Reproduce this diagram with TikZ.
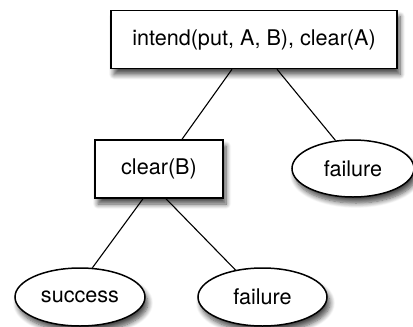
\documentclass[tikz,border=0pt]{standalone}
\usepackage{fontspec}
\setmainfont{TeX Gyre Heros}
\usepackage{tikz}
\usetikzlibrary{shapes.geometric,shadows.blur}

\tikzset{
  goalbox/.style={draw, fill=white, line width=0.75pt, rectangle, inner sep=0pt,
    blur shadow={shadow xshift=1.5pt, shadow yshift=-3pt, shadow blur radius=2.5pt, shadow blur steps=8, shadow opacity=70}},
  outcome/.style={draw, fill=white, line width=0.75pt, ellipse, inner sep=0pt,
    blur shadow={shadow xshift=1.5pt, shadow yshift=-3pt, shadow blur radius=2.5pt, shadow blur steps=8, shadow opacity=70}},
  branch/.style={line width=0.55pt}
}

\begin{document}
\begin{tikzpicture}[x=1pt, y=-1pt, font=\fontsize{10.8}{12}\selectfont]

\useasboundingbox (0,0) rectangle (206.5,163.5);
\clip (0,0) rectangle (206.5,163.5);

\node[goalbox, minimum width=143pt, minimum height=29pt] (root) at (127,19.75) {intend(put, A, B), clear(A)};

\node[goalbox, minimum width=64pt, minimum height=29pt] (clearB) at (79.5,84.5) {clear(B)};
\node[outcome, minimum width=61pt, minimum height=28.5pt] (failA) at (176.5,84.25) {failure};

\node[outcome, minimum width=65pt, minimum height=29pt] (succ) at (40,148.5) {success};
\node[outcome, minimum width=64.5pt, minimum height=29pt] (failB) at (131.25,148.5) {failure};

% branches of the tree
\draw[branch] ([xshift=-11pt]root.south) -- ([xshift=11.5pt]clearB.north);
\draw[branch] ([xshift=11.5pt]root.south) -- (failA.122);
\draw[branch] ([xshift=-8pt]clearB.south) -- (succ.67);
\draw[branch] ([xshift=3.5pt]clearB.south) -- (failB.135);

\end{tikzpicture}
\end{document}
